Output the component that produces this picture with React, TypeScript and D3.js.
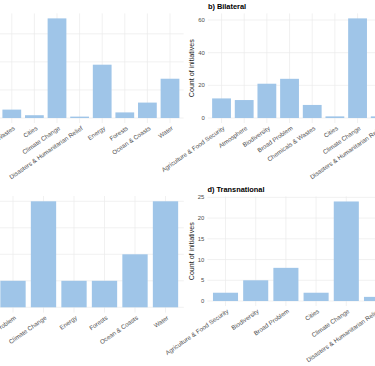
import { useEffect, useRef } from "react";
import * as d3 from "d3";

// a) (left part cut off)
const catsA = ["Chemicals & Wastes", "Cities", "Climate Change", "Disasters & Humanitarian Relief", "Energy", "Forests", "Ocean & Coasts", "Water"];
const valsA = [6, 2, 71, 1, 38, 4, 11, 28];
const ticksA = [0, 20, 40, 60];

// b) Bilateral
const catsB = ["Agriculture & Food Security", "Atmosphere", "Biodiversity", "Broad Problem", "Chemicals & Wastes", "Cities", "Climate Change", "Disasters & Humanitarian Relief"];
const valsB = [12, 11, 21, 24, 8, 1, 61, 1];
const ticksB = [0, 20, 40, 60];

// c) (left part cut off)
const catsC = ["Broad Problem", "Climate Change", "Energy", "Forests", "Ocean & Coasts", "Water"];
const valsC = [1, 4, 1, 1, 2, 4];
const ticksC = [0, 1, 2, 3, 4];

// d) Transnational
const catsD = ["Agriculture & Food Security", "Biodiversity", "Broad Problem", "Cities", "Climate Change", "Disasters & Humanitarian Relief"];
const valsD = [2, 5, 8, 2, 24, 1];
const ticksD = [0, 5, 10, 15, 20, 25];

const BAR = "#9FC5E8";
const GRID = "#EBEBEB";
const FONT = "'Liberation Sans', Arial, Helvetica, sans-serif";

interface Panel {
  cats: string[];
  vals: number[];
  ticks: number[];
  title: string | null;
  showY: boolean;
  x0: number;
  step: number;
  left: number;
  right: number;
  top: number;
  bottom: number;
}

const panels: Panel[] = [
  { cats: catsA, vals: valsA, ticks: ticksA, title: null, showY: false, x0: 0.5, step: 22.6, left: -40, right: 183.6, top: 13.4, bottom: 123 },
  { cats: catsB, vals: valsB, ticks: ticksB, title: "b) Bilateral", showY: true, x0: 210.2, step: 22.67, left: 207.9, right: 420, top: 13.4, bottom: 123 },
  { cats: catsC, vals: valsC, ticks: ticksC, title: null, showY: false, x0: -2.25, step: 30.5, left: -40, right: 183.8, top: 196, bottom: 312.6 },
  { cats: catsD, vals: valsD, ticks: ticksD, title: "d) Transnational", showY: true, x0: 210.4, step: 30.2, left: 207.4, right: 420, top: 196.5, bottom: 306 },
];

const App = () => {
  const svgRef = useRef<SVGSVGElement | null>(null);

  useEffect(() => {
    if (!svgRef.current) return;
    const svg = d3.select(svgRef.current);
    svg.selectAll("*").remove();

    svg.append("rect").attr("width", 375).attr("height", 366).attr("fill", "white");

    panels.forEach((p) => {
      const g = svg.append("g");
      const max = d3.max(p.vals) as number;

      const x = d3
        .scaleBand<string>()
        .domain(p.cats)
        .range([p.x0, p.x0 + p.cats.length * p.step])
        .paddingInner(0.17)
        .paddingOuter(0.085);

      const y = d3
        .scaleLinear()
        .domain([-0.05 * max, 1.05 * max])
        .range([p.bottom, p.top]);

      const cx = (c: string) => (x(c) as number) + x.bandwidth() / 2;

      // grid
      g.selectAll(".hg")
        .data(p.ticks)
        .enter()
        .append("line")
        .attr("x1", p.left)
        .attr("x2", p.right)
        .attr("y1", (d) => y(d))
        .attr("y2", (d) => y(d))
        .attr("stroke", GRID)
        .attr("stroke-width", 0.7);

      g.selectAll(".vg")
        .data(p.cats)
        .enter()
        .append("line")
        .attr("x1", (d) => cx(d))
        .attr("x2", (d) => cx(d))
        .attr("y1", p.top)
        .attr("y2", p.bottom)
        .attr("stroke", GRID)
        .attr("stroke-width", 0.7);

      // bars
      g.selectAll(".bar")
        .data(p.cats)
        .enter()
        .append("rect")
        .attr("x", (d) => x(d) as number)
        .attr("width", x.bandwidth())
        .attr("y", (d, i) => y(p.vals[i]))
        .attr("height", (d, i) => y(0) - y(p.vals[i]))
        .attr("fill", BAR);

      // x labels
      g.selectAll(".xl")
        .data(p.cats)
        .enter()
        .append("text")
        .attr("transform", (d) => `translate(${cx(d) + 1},${p.bottom + 2.5}) rotate(-35)`)
        .attr("dy", "0.72em")
        .attr("text-anchor", "end")
        .attr("font-family", FONT)
        .attr("font-size", 6.2)
        .attr("fill", "#4D4D4D")
        .text((d) => d);

      if (p.showY) {
        g.selectAll(".yl")
          .data(p.ticks)
          .enter()
          .append("text")
          .attr("x", p.left - 3.2)
          .attr("y", (d) => y(d))
          .attr("dy", "0.35em")
          .attr("text-anchor", "end")
          .attr("font-family", FONT)
          .attr("font-size", 5.9)
          .attr("fill", "#4D4D4D")
          .text((d) => d);

        g.append("text")
          .attr("transform", `translate(${p.left - 13.5},${(p.top + p.bottom) / 2}) rotate(-90)`)
          .attr("text-anchor", "middle")
          .attr("font-family", FONT)
          .attr("font-size", 7.1)
          .attr("fill", "#1A1A1A")
          .text("Count of initiatives");
      }

      if (p.title) {
        g.append("text")
          .attr("x", p.left)
          .attr("y", p.top - 4.2)
          .attr("font-family", FONT)
          .attr("font-size", 7.4)
          .attr("font-weight", "bold")
          .attr("fill", "#000")
          .text(p.title);
      }
    });
  }, []);

  return (
    <div style={{ position: "absolute", left: 0, top: 0 }}>
      <svg ref={svgRef} width={375} height={366} style={{ display: "block" }}></svg>
    </div>
  );
};

export default App;
